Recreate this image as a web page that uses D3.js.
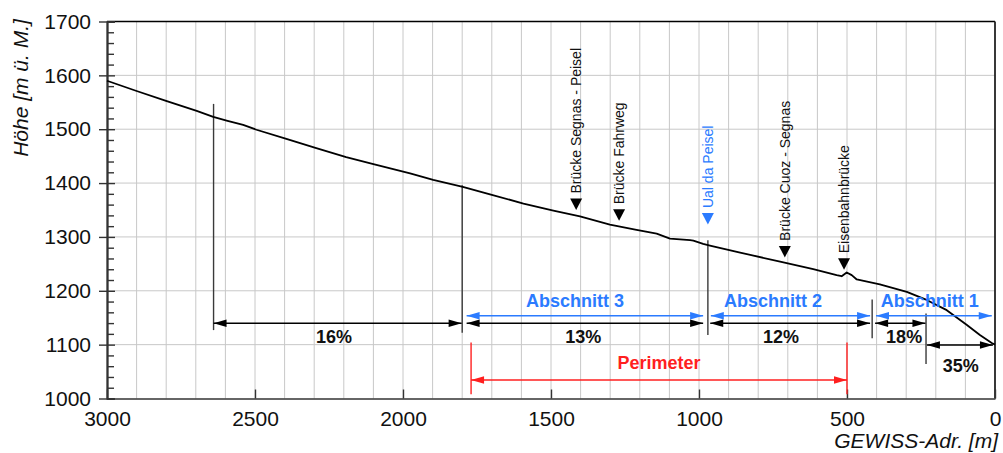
<!DOCTYPE html>
<html><head><meta charset="utf-8">
<script src="https://cdn.jsdelivr.net/npm/d3@7"></script>
<style>
body{margin:0;background:#fff}
svg{display:block;font-family:"Liberation Sans",Arial,Helvetica,sans-serif}
</style>
</head><body>
<svg id="chart" width="1003" height="453"></svg>
<script>
// ---- data ----
const profileDist = [3000,2900,2798,2697,2641,2596,2540,2495,2394,2293,2192,2100,2033,1976,1898,1798,1706,1593,1492,1402,1301,1211,1143,1098,1030,1019,986,963,861,726,614,535,518,501,484,467,389,298,231,163,96,51,11,0];
const profileElev = [1590,1571,1552,1534,1523,1516,1508,1499,1482,1465,1448,1435,1426,1418,1406,1393,1379,1362,1349,1338,1323,1313,1306,1297,1294,1293,1287,1284,1271,1254,1240,1229,1227,1234,1229,1221,1212,1198,1183,1164,1137,1118,1103,1100];

const xTicks = [3000,2500,2000,1500,1000,500,0];
const yTicks = [1000,1100,1200,1300,1400,1500,1600,1700];

const markerNames = ["Brücke Segnas - Peisel","Brücke Fahrweg","Ual da Peisel","Brücke Cuoz - Segnas","Eisenbahnbrücke"];
const markerDist  = [1415,1270,970,710,510];
const markerElev  = [1350,1330,1323,1262,1239];
const markerBlue  = [false,false,true,false,false];

const dividerDist   = [2640,1800,970,415,233];
const dividerTop    = [1547,1396,1294,1184,1158];
const dividerBottom = [1127,1122,1118,1112,1064];

const sectionNames = ["Abschnitt 3","Abschnitt 2","Abschnitt 1"];
const sectionFrom  = [1785,960,402];
const sectionTo    = [986,422,11];
const sectionLabelDist = [1419,750,220];

const gradeLabels = ["16%","13%","12%","18%","35%"];
const gradeFrom   = [2640,1785,962,405,230];
const gradeTo     = [1802,986,422,235,7];
const gradeArrowElev = [1139.6,1139.6,1139.6,1139.6,1099.3];
const gradeLabelDist = [2233,1391,723,307,116];
const gradeLabelElev = [1102.5,1102.5,1102.5,1102.5,1050];

const perimeterName = "Perimeter";
const perimeterFrom = 1770, perimeterTo = 500;
const perimeterTop = 1104, perimeterBottom = 1008;

// ---- layout ----
const BLUE = "#2b7bff", RED = "#ff1f1f";
const svg = d3.select("#chart");
const x = d3.scaleLinear().domain([3000,0]).range([107,995]);
const y = d3.scaleLinear().domain([1000,1700]).range([398.5,21.5]);

// grid
const grid = svg.append("g").attr("stroke","#c8c8c8").attr("stroke-width",1);
grid.selectAll("line.v").data(d3.range(100,3000,100)).join("line")
  .attr("x1",d=>x(d)).attr("x2",d=>x(d)).attr("y1",y(1000)).attr("y2",y(1700));
grid.selectAll("line.h").data(d3.range(1100,1700,100)).join("line")
  .attr("x1",x(3000)).attr("x2",x(0)).attr("y1",d=>y(d)).attr("y2",d=>y(d));

// frame top and right
svg.append("line").attr("x1",x(3000)).attr("x2",x(0)).attr("y1",y(1700)).attr("y2",y(1700))
  .attr("stroke","#000").attr("stroke-width",1.6);
svg.append("line").attr("x1",x(0)).attr("x2",x(0)).attr("y1",y(1700)).attr("y2",y(1000))
  .attr("stroke","#222").attr("stroke-width",1.8);

// axes
const fontAxis = 21;
const yAxisL = svg.append("g").attr("transform",`translate(${x(3000)},0)`)
  .call(d3.axisLeft(y).tickValues(yTicks).tickSizeInner(8).tickSizeOuter(0).tickPadding(8).tickFormat(d3.format("d")));
const yMinor = svg.append("g").attr("transform",`translate(${x(3000)},0)`)
  .call(d3.axisRight(y).tickValues(d3.range(1020,1700,20).filter(v=>v%100!==0)).tickSize(7).tickFormat(""));
const yMajorR = svg.append("g").attr("transform",`translate(${x(3000)},0)`)
  .call(d3.axisRight(y).tickValues(yTicks).tickSize(8).tickFormat(""));
const xAxis = svg.append("g").attr("transform",`translate(0,${y(1000)})`)
  .call(d3.axisBottom(x).tickValues(xTicks).tickSizeInner(-9).tickSizeOuter(0).tickPadding(13).tickFormat(d3.format("d")));
[yAxisL,yMinor,yMajorR,xAxis].forEach(g=>{
  g.selectAll("path.domain").attr("stroke","#333").attr("stroke-width",1.6);
  g.selectAll(".tick line").attr("stroke","#333").attr("stroke-width",1.4);
  g.selectAll("text").attr("font-size",fontAxis).attr("fill","#111").attr("font-family","Liberation Sans, Arial, sans-serif");
});

// axis titles
svg.append("text").attr("transform",`translate(28,${(21+155)/2}) rotate(-90)`)
  .attr("text-anchor","middle").attr("font-style","italic").attr("font-size",21).attr("fill","#111")
  .text("Höhe [m ü. M.]");
svg.append("text").attr("x",998).attr("y",448).attr("text-anchor","end")
  .attr("font-style","italic").attr("font-size",21).attr("fill","#111").text("GEWISS-Adr. [m]");

// dividers
svg.append("g").selectAll("line").data(dividerDist).join("line")
  .attr("x1",d=>x(d)).attr("x2",d=>x(d))
  .attr("y1",(d,i)=>y(dividerTop[i])).attr("y2",(d,i)=>y(dividerBottom[i]))
  .attr("stroke","#3a3a3a").attr("stroke-width",1.4);

// perimeter verticals
svg.append("g").selectAll("line").data([perimeterFrom,perimeterTo]).join("line")
  .attr("x1",d=>x(d)).attr("x2",d=>x(d)).attr("y1",y(perimeterTop)).attr("y2",y(perimeterBottom))
  .attr("stroke",RED).attr("stroke-width",1.4);

// profile line
const profile = profileDist.map((d,i)=>[d,profileElev[i]]);
svg.append("path").datum(profile)
  .attr("d",d3.line().x(d=>x(d[0])).y(d=>y(d[1])))
  .attr("fill","none").attr("stroke","#000").attr("stroke-width",1.8).attr("stroke-linejoin","round");

// double arrows
function dblArrow(x1,x2,yy,color){
  const g = svg.append("g");
  const L = 13, h = 3.8;
  g.append("line").attr("x1",x1).attr("x2",x2).attr("y1",yy).attr("y2",yy)
    .attr("stroke",color).attr("stroke-width",1.4);
  g.append("path").attr("d",`M${x1},${yy}L${x1+L},${yy-h}L${x1+L},${yy+h}Z`).attr("fill",color);
  g.append("path").attr("d",`M${x2},${yy}L${x2-L},${yy-h}L${x2-L},${yy+h}Z`).attr("fill",color);
}
sectionNames.forEach((n,i)=>{
  dblArrow(x(sectionFrom[i]),x(sectionTo[i]),y(1153.7),BLUE);
  svg.append("text").attr("x",x(sectionLabelDist[i])).attr("y",y(1169.3))
    .attr("text-anchor","middle").attr("font-weight","bold").attr("font-size",18).attr("fill",BLUE).text(n);
});
gradeLabels.forEach((n,i)=>{
  dblArrow(x(gradeFrom[i]),x(gradeTo[i]),y(gradeArrowElev[i]),"#000");
  svg.append("text").attr("x",x(gradeLabelDist[i])).attr("y",y(gradeLabelElev[i]))
    .attr("text-anchor","middle").attr("font-weight","bold").attr("font-size",18).attr("fill","#111").text(n);
});
dblArrow(x(perimeterFrom),x(perimeterTo),y(1034.3),RED);
svg.append("text").attr("x",(x(perimeterFrom)+x(perimeterTo))/2).attr("y",y(1054.8))
  .attr("text-anchor","middle").attr("font-weight","bold").attr("font-size",18).attr("fill",RED).text(perimeterName);

// markers
markerNames.forEach((n,i)=>{
  const mx = x(markerDist[i]), my = y(markerElev[i]);
  const col = markerBlue[i] ? BLUE : "#000";
  svg.append("path").attr("d",`M${mx},${my}L${mx-6},${my-11.5}L${mx+6},${my-11.5}Z`).attr("fill",col);
  svg.append("text").attr("transform",`translate(${mx+5},${my-16.5}) rotate(-90)`)
    .attr("font-size",14).attr("fill",markerBlue[i]?BLUE:"#111").text(n);
});
</script>
</body></html>
